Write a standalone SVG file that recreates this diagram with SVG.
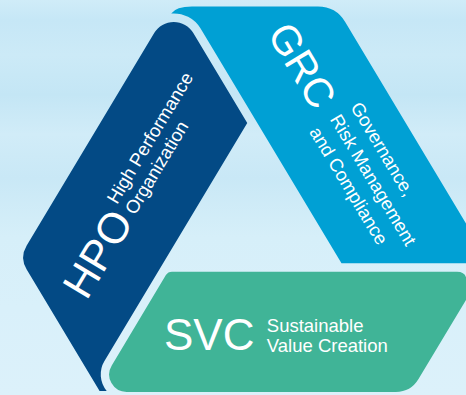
<svg xmlns="http://www.w3.org/2000/svg" width="466" height="395" viewBox="0 0 466 395">
  <defs>
    <linearGradient id="bgGrad" x1="0" y1="0" x2="0" y2="1">
      <stop offset="0" stop-color="#d0ecf8"/>
      <stop offset="0.05" stop-color="#c6e7f6"/>
      <stop offset="0.14" stop-color="#cceaf7"/>
      <stop offset="0.24" stop-color="#c4e6f5"/>
      <stop offset="0.34" stop-color="#d1ecf8"/>
      <stop offset="0.45" stop-color="#c9e8f6"/>
      <stop offset="0.6" stop-color="#d6eff9"/>
      <stop offset="0.78" stop-color="#d9f0fa"/>
      <stop offset="1" stop-color="#dcf1fa"/>
    </linearGradient>
  </defs>
  <style>
    .hpo { fill: #034a85; }
    .grc { fill: #00a0d4; }
    .svc { fill: #40b497; }
    .big { font-family: "Liberation Sans", Arial, sans-serif; fill: #ffffff; }
    .sub { font-family: "Liberation Sans", Arial, sans-serif; font-size: 18.5px; fill: #ffffff; }
  </style>
  <rect x="0" y="0" width="466" height="395" fill="url(#bgGrad)"/>

  <g id="hpo">
    <path class="hpo" d="M 154.2,33 A 22.8,22.8 0 0 1 193.3,33 L 247.25,122.9 L 104.46,361 A 26,26 0 0 0 106.7,391 L 99.6,391 L 26.7,269.5 Q 19.5,257.5 26.7,245.5 Z"/>
    <text class="big" font-size="43" transform="translate(86.5,301.2) rotate(-59)">HPO</text>
    <text class="sub" transform="translate(117,205) rotate(-59)"><tspan x="0" y="0">High Performance</tspan><tspan x="0" y="21">Organization</tspan></text>
  </g>

  <g id="grc">
    <path class="grc" d="M 171.2,13.5 Q 176,6.5 192,6.5 L 317.9,6.5 Q 335.9,6.5 345.2,21.9 L 475.4,239.3 Q 489.8,263.3 461.8,263.3 L 341.5,263.3 L 200.6,28.6 A 31.3,31.3 0 0 0 171.2,13.5 Z"/>
    <text class="big" font-size="41" transform="translate(266.6,33.7) rotate(59)">GRC</text>
    <text class="sub" transform="translate(350,107) rotate(59)"><tspan x="0" y="0">Governance,</tspan><tspan x="0" y="24">Risk Management</tspan><tspan x="0" y="48">and Compliance</tspan></text>
  </g>

  <g id="svc">
    <path class="svc" d="M 172,271.7 L 457,271.7 Q 466.5,271.7 466.5,281 L 466.5,299.2 L 418.5,379.1 Q 410.8,392 395.8,392 L 126.8,392 A 17.5,17.5 0 0 1 111.75,365.4 L 165.9,275.1 Q 168,271.7 172,271.7 Z"/>
    <text class="big" font-size="44" x="164" y="350">SVC</text>
    <text class="sub"><tspan x="266.8" y="331.7">Sustainable</tspan><tspan x="266.8" y="351.7">Value Creation</tspan></text>
  </g>
</svg>
